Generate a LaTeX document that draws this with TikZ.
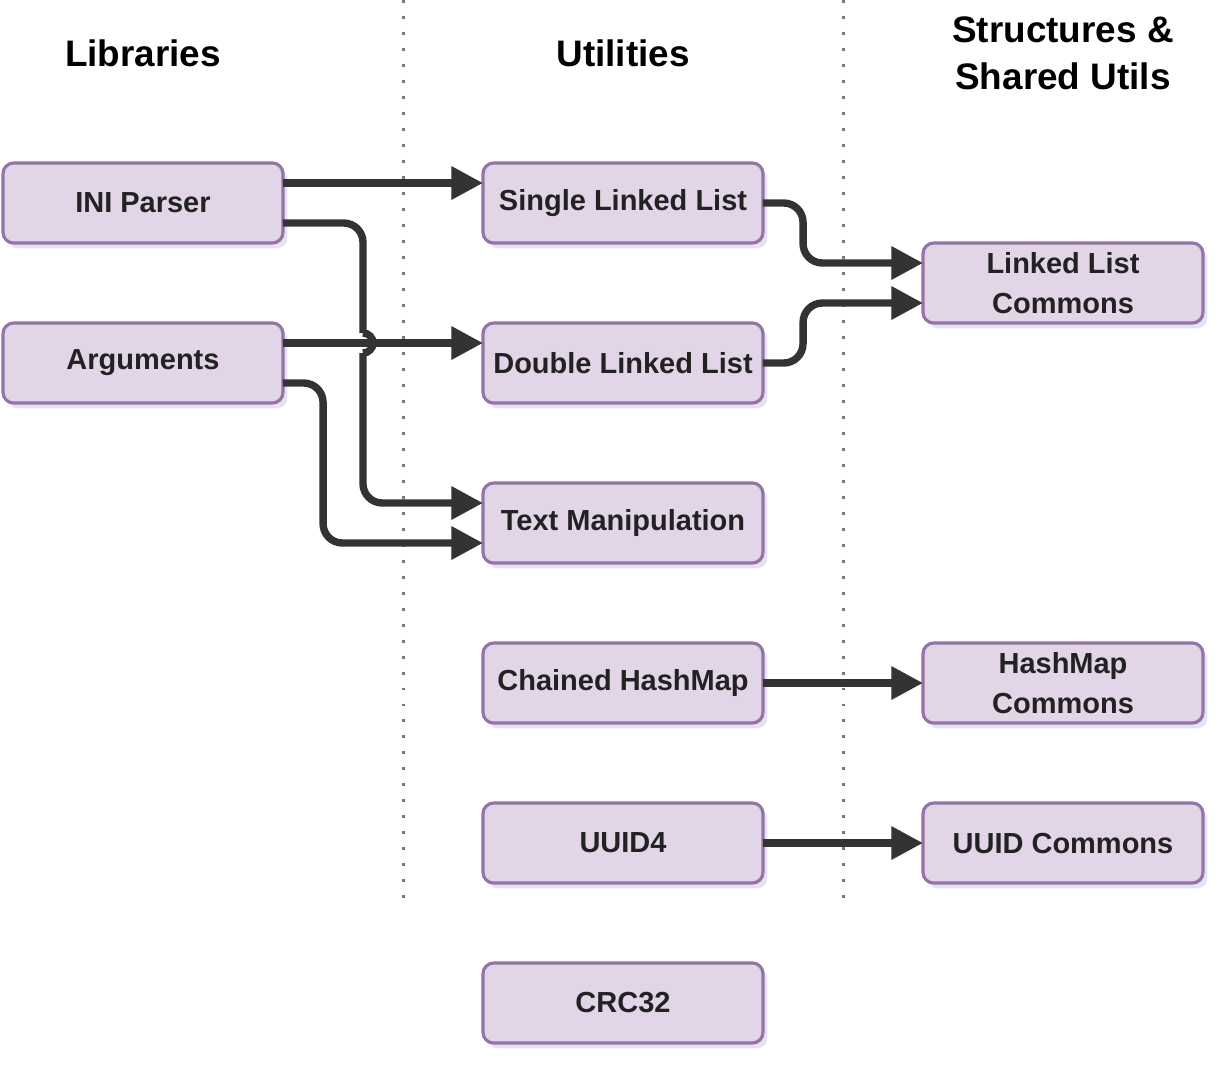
\documentclass[tikz,border=0pt]{standalone}
\usepackage{fontspec}
\setmainfont{Liberation Sans}
\usetikzlibrary{arrows.meta,shadows}

\definecolor{boxfill}{HTML}{E1D5E7}
\definecolor{boxline}{HTML}{9673A6}
\definecolor{arrowgray}{HTML}{333333}
\definecolor{textgray}{HTML}{222222}
\definecolor{dotgray}{HTML}{777777}

\tikzset{
  module/.style={draw=boxline, fill=boxfill, line width=1.8pt, rounded corners=6pt,
    minimum width=5.6cm, minimum height=1.6cm, inner sep=0pt, outer sep=0pt,
    align=center, text=textgray, font=\bfseries\fontsize{16.5}{22.5}\selectfont,
    drop shadow={shadow xshift=2.5pt, shadow yshift=-3pt, opacity=0.4, fill=gray!60!blue!40}},
  heading/.style={font=\bfseries\fontsize{21}{26.6}\selectfont, align=center},
  conn line/.style={draw=arrowgray, line width=4.2pt},
  conn/.style={conn line, -{Triangle[length=18pt,width=18pt]}, rounded corners=11pt},
  divider/.style={draw=dotgray, line width=1.7pt, dash pattern=on 1.7pt off 7.4pt}
}

\begin{document}
\begin{tikzpicture}[x=0.02cm, y=-0.02cm]
    \useasboundingbox (0,0) rectangle (1226,1066);
    % kolommen
    \draw[divider] (403,0) -- (403,905);
    \draw[divider] (843,0) -- (843,905);
    \node[heading] (hlib) at (143,53) {Libraries};
    \node[heading] (hutil) at (623,53) {Utilities};
    \node[heading] (hstruct) at (1063,53) {Structures \&\\Shared Utils};
    % libraries
    \node[module] (ini) at (143,203) {INI Parser};
    \node[module] (args) at (143,363) {Arguments};
    % utilities
    \node[module] (sll) at (623,203) {Single Linked List};
    \node[module] (dll) at (623,363) {Double Linked List};
    \node[module] (txt) at (623,523) {Text Manipulation};
    \node[module] (chm) at (623,683) {Chained HashMap};
    \node[module] (uuid) at (623,843) {UUID4};
    \node[module] (crc) at (623,1003) {CRC32};
    % structures
    \node[module] (llc) at (1063,283) {Linked List\\Commons};
    \node[module] (hmc) at (1063,683) {HashMap\\Commons};
    \node[module] (uuidc) at (1063,843) {UUID Commons};
    % pijlen
    \coordinate (hop) at (363,343);
    \draw[conn] ([yshift=0.4cm]ini.east) -- ([yshift=0.4cm]sll.west);
    \draw[conn line, rounded corners=11pt] ([yshift=-0.4cm]ini.east) -| ([yshift=0.2cm]hop);
    \draw[conn line] ([yshift=0.2cm]hop) arc[start angle=90, end angle=-90, radius=0.2cm];
    \draw[conn] ([yshift=-0.2cm]hop) |- ([yshift=0.4cm]txt.west);
    \draw[conn] ([yshift=0.4cm]args.east) -- ([yshift=0.4cm]dll.west);
    \draw[conn] ([yshift=-0.4cm]args.east) -| ([xshift=-3.2cm,yshift=-0.4cm]txt.west)
        -- ([yshift=-0.4cm]txt.west);
    \draw[conn] (sll.east) -| ([xshift=-2.4cm,yshift=0.4cm]llc.west) -- ([yshift=0.4cm]llc.west);
    \draw[conn] (dll.east) -| ([xshift=-2.4cm,yshift=-0.4cm]llc.west) -- ([yshift=-0.4cm]llc.west);
    \draw[conn] (chm.east) -- (hmc.west);
    \draw[conn] (uuid.east) -- (uuidc.west);
\end{tikzpicture}
\end{document}
